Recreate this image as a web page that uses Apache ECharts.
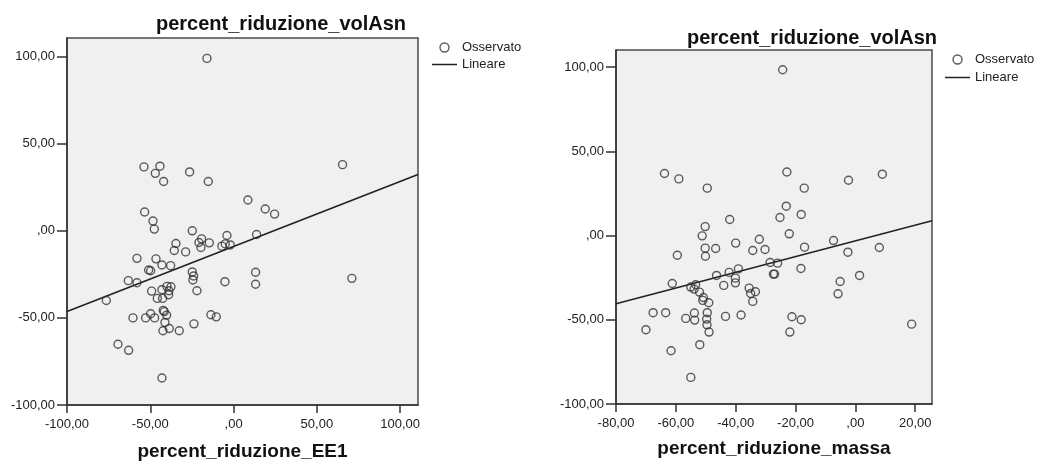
<!DOCTYPE html>
<html>
<head>
<meta charset="utf-8">
<title>percent_riduzione_volAsn</title>
<script src="https://cdn.jsdelivr.net/npm/echarts@6/dist/echarts.min.js"></script>
<style>
  html, body { margin: 0; padding: 0; background: #ffffff; }
  #chart { width: 1039px; height: 461px; }
</style>
</head>
<body>
<div id="chart"></div>
<script>
// Observed cases: [percent_riduzione_EE1, percent_riduzione_volAsn]
const osservatoEE1 = [
  [-16, 99], [-53.8, 36.7], [-44.2, 37.1], [-47, 33], [-42, 28.3], [-26.4, 33.8],
  [-15.2, 28.3], [65.4, 38], [8.6, 17.7], [19, 12.5], [24.6, 9.6], [-53.4, 10.8],
  [-48.4, 5.6], [-47.6, 1], [-24.8, 0], [-19.2, -4.6], [-20.8, -6.7], [-19.6, -9.6],
  [-14.6, -6.9], [-4, -2.7], [-7, -8.8], [-2, -8.1], [-5, -7.5], [13.8, -2.1],
  [-34.6, -7.3], [-35.6, -11.3], [-28.8, -12.1], [-58, -15.8], [-46.6, -16.1],
  [-43, -19.6], [-37.8, -20], [-51, -22.5], [-49.8, -22.9], [-24.8, -23.6],
  [-24, -25.9], [-24.4, -28.2], [13.2, -23.8], [13.2, -30.7], [-5.2, -29.2],
  [71, -27.3], [-63.2, -28.6], [-58, -29.8], [-76.4, -40], [-49.2, -34.6],
  [-43, -33.8], [-40, -31.9], [-37.6, -32.1], [-38.8, -34.4], [-39, -36.7],
  [-45.8, -38.8], [-42.6, -38.8], [-22, -34.4], [-60.4, -50], [-52.8, -50],
  [-49.8, -47.6], [-47.4, -50], [-42.2, -45.7], [-41.6, -46.4], [-40.2, -48.4],
  [-41.2, -52.6], [-38.6, -56.1], [-42.4, -57.4], [-32.6, -57.4], [-23.8, -53.4],
  [-13.6, -48.2], [-10.4, -49.4], [-69.4, -65.1], [-63, -68.6], [-43, -84.5]
];

// Observed cases: [percent_riduzione_massa, percent_riduzione_volAsn]
const osservatoMassa = [
  [-24.3, 98.4], [-63.8, 36.8], [-59, 33.6], [-49.5, 28.1], [-22.9, 37.7], [9, 36.4],
  [-2.3, 32.8], [-17.1, 28.1], [-23.1, 17.4], [-18.1, 12.5], [-25.2, 10.7], [-42, 9.5],
  [-50.2, 5.3], [-51.2, -0.2], [-22.1, 1], [-32.1, -2.2], [-7.3, -3], [-40, -4.5],
  [-50.2, -7.5], [-46.7, -7.7], [-34.3, -8.9], [-30.2, -8.3], [-17, -6.9], [8, -7.1],
  [-2.5, -9.9], [-59.5, -11.7], [-50.1, -12.3], [-28.5, -16], [-26, -16.4],
  [-39.1, -19.8], [-18.2, -19.6], [-42.2, -21.9], [-46.4, -23.7], [-40.1, -25.3],
  [-40.1, -28.1], [-27.4, -22.9], [-27, -22.9], [1.4, -23.7], [-5.1, -27.3],
  [-5.8, -34.6], [-61.2, -28.5], [-53.4, -29.2], [-55, -30.6], [-53.9, -31.8],
  [-52.1, -33.6], [-44, -29.6], [-35.5, -31.2], [-35, -34.4], [-33.4, -33.4],
  [-34.3, -39.1], [-50.8, -36.8], [-51, -38.5], [-49, -39.9], [-67.6, -45.8],
  [-63.4, -45.8], [-56.7, -49.2], [-53.8, -46], [-53.7, -50.2], [-49.5, -45.8],
  [-49.7, -49.6], [-49.6, -53], [-48.9, -57.3], [-43.4, -48], [-38.2, -47.2],
  [-21.2, -48.2], [-18.1, -50], [-21.9, -57.3], [18.8, -52.6], [-70, -55.9],
  [-52, -64.8], [-61.6, -68.4], [-55, -84.2]
];

// Linear fit lines, end points across each plot
const lineareEE1 = [[-100, -46.3], [110.7, 32.3]];
const lineareMassa = [[-80, -40.5], [25.6, 8.7]];

// Axis ranges and tick values
const ticksEE1 = [-100, -50, 0, 50, 100];
const ticksMassa = [-80, -60, -40, -20, 0, 20];
const ticksVolAsn = [-100, -50, 0, 50, 100];
const rangeEE1 = [-100, 110.7];
const rangeMassa = [-80, 25.6];
const rangeVolAsnLeft = [-100, 110.7];
const rangeVolAsnRight = [-100, 110.1];

// Titles
const titoloY = 'percent_riduzione_volAsn';
const titoloXLeft = 'percent_riduzione_EE1';
const titoloXRight = 'percent_riduzione_massa';
const nomeOsservato = 'Osservato';
const nomeLineare = 'Lineare';

const FONT = '"Liberation Sans", Arial, sans-serif';
const INK = '#222222';

// SPSS style numbers: comma decimal, zero printed as ",00"
function fmt(v) {
  if (Math.abs(v) < 1e-9) return ',00';
  return v.toFixed(2).replace('.', ',');
}

function xAxisDef(gridIndex, range, ticks, name, nameGap) {
  return {
    type: 'value', gridIndex: gridIndex, min: range[0], max: range[1],
    name: name, nameLocation: 'middle', nameGap: nameGap,
    nameTextStyle: { fontFamily: FONT, fontSize: 19, fontWeight: 'bold', color: '#111' },
    axisLine: { show: true, onZero: false, lineStyle: { color: '#333', width: 1.5 } },
    axisTick: { show: true, length: 8, customValues: ticks, lineStyle: { color: '#333', width: 1.5 } },
    axisLabel: { customValues: ticks, formatter: fmt, margin: 13, fontFamily: FONT, fontSize: 13, color: INK },
    splitLine: { show: false }
  };
}

function yAxisDef(gridIndex, range, ticks) {
  return {
    type: 'value', gridIndex: gridIndex, min: range[0], max: range[1],
    axisLine: { show: true, onZero: false, lineStyle: { color: '#333', width: 1.5 } },
    axisTick: { show: true, length: 10, customValues: ticks, lineStyle: { color: '#333', width: 1.5 } },
    axisLabel: { customValues: ticks, formatter: fmt, margin: 12, fontFamily: FONT, fontSize: 13, color: INK },
    splitLine: { show: false }
  };
}

// Legend: hollow circle for observed cases, plain stroke for the fit line
function legendDef(left, top, gap) {
  return {
    orient: 'vertical', left: left, top: top, padding: 0,
    itemWidth: 25, itemHeight: 9, itemGap: gap,
    selectedMode: false,
    textStyle: { fontFamily: FONT, fontSize: 13, color: INK },
    data: [
      { name: nomeOsservato, icon: 'circle',
        itemStyle: { color: 'rgba(0,0,0,0)', borderColor: '#333', borderWidth: 1.4 } },
      { name: nomeLineare, icon: 'path://M0,0 L50,0 L50,3 L0,3 Z',
        itemStyle: { color: '#222', borderWidth: 0 } }
    ]
  };
}

const scatterStyle = { color: 'rgba(0,0,0,0)', borderColor: '#333', borderWidth: 1.4 };
const lineStyle = { color: '#222', width: 1.6 };

const chart = echarts.init(document.getElementById('chart'), null, { renderer: 'canvas' });
chart.setOption({
  backgroundColor: '#ffffff',
  animation: false,
  title: [
    { text: titoloY, left: 151, top: 9,
      textStyle: { fontFamily: FONT, fontSize: 20, fontWeight: 'bold', color: '#111' } },
    { text: titoloY, left: 682, top: 23,
      textStyle: { fontFamily: FONT, fontSize: 20, fontWeight: 'bold', color: '#111' } }
  ],
  legend: [legendDef(432, 41, 4), legendDef(945, 53, 5)],
  grid: [
    { left: 67, top: 38, right: 621, bottom: 56, show: true, outerBoundsMode: 'none',
      backgroundColor: '#f0f0f0', borderColor: '#4a4a4a', borderWidth: 1.5 },
    { left: 616, top: 50, right: 107, bottom: 57, show: true, outerBoundsMode: 'none',
      backgroundColor: '#f0f0f0', borderColor: '#4a4a4a', borderWidth: 1.5 }
  ],
  xAxis: [
    xAxisDef(0, rangeEE1, ticksEE1, titoloXLeft, 37),
    xAxisDef(1, rangeMassa, ticksMassa, titoloXRight, 35)
  ],
  yAxis: [
    yAxisDef(0, rangeVolAsnLeft, ticksVolAsn),
    yAxisDef(1, rangeVolAsnRight, ticksVolAsn)
  ],
  series: [
    { name: nomeLineare, type: 'line', xAxisIndex: 0, yAxisIndex: 0,
      data: lineareEE1, symbol: 'none', lineStyle: lineStyle, itemStyle: { color: '#222' }, z: 2 },
    { name: nomeOsservato, type: 'scatter', xAxisIndex: 0, yAxisIndex: 0,
      data: osservatoEE1, symbol: 'circle', symbolSize: 8, itemStyle: scatterStyle, z: 3 },
    { name: nomeLineare, type: 'line', xAxisIndex: 1, yAxisIndex: 1,
      data: lineareMassa, symbol: 'none', lineStyle: lineStyle, itemStyle: { color: '#222' }, z: 2 },
    { name: nomeOsservato, type: 'scatter', xAxisIndex: 1, yAxisIndex: 1,
      data: osservatoMassa, symbol: 'circle', symbolSize: 8, itemStyle: scatterStyle, z: 3 }
  ]
});
</script>
</body>
</html>
